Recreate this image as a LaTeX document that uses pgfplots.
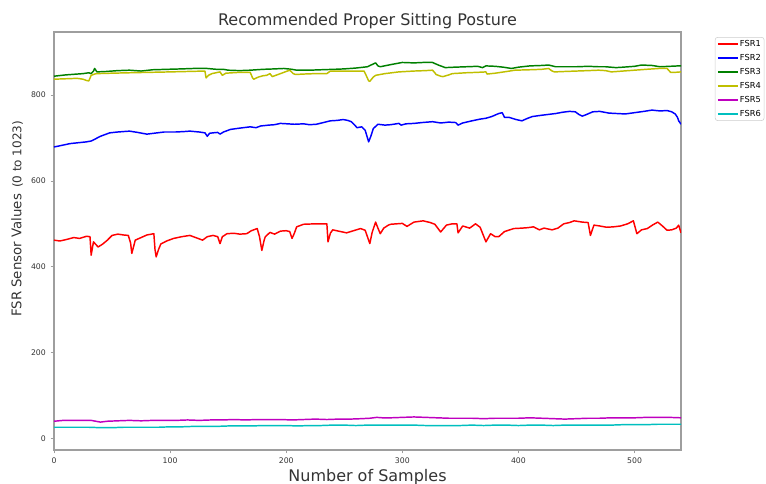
\documentclass[border=0pt]{standalone}
\usepackage{pgfplots}
\pgfplotsset{compat=1.18}
\usepackage{fontspec}
\setmainfont{DejaVu Sans}
\definecolor{mplr}{rgb}{1,0,0}
\definecolor{mplb}{rgb}{0,0,1}
\definecolor{mplg}{rgb}{0,0.5,0}
\definecolor{mply}{rgb}{0.75,0.75,0}
\definecolor{mplm}{rgb}{0.75,0,0.75}
\definecolor{mplc}{rgb}{0,0.75,0.75}
\definecolor{framegray}{rgb}{0.62,0.62,0.62}
\definecolor{ticktext}{rgb}{0.2,0.2,0.2}
\begin{document}
\begin{tikzpicture}
\begin{axis}[
  name=ax,
  scale only axis,
  width=470.25pt, height=313.5pt,
  xmin=0, xmax=540, ymin=-27, ymax=947,
  xtick={0,100,200,300,400,500},
  ytick={0,200,400,600,800},
  tick pos=left,
  tick align=outside,
  major tick length=2.6pt,
  axis line style={framegray, line width=0.9pt},
  every tick/.style={framegray, line width=0.6pt},
  /pgf/number format/assume math mode=true,
  ticklabel style={font=\fontsize{5.8}{6.8}\selectfont, text=ticktext},
  title={Recommended Proper Sitting Posture},
  title style={font=\fontsize{12}{14}\selectfont, text=ticktext, at={(axis description cs:0.5,1)}, anchor=base, yshift=-1.5pt},
  xlabel={Number of Samples},
  xlabel style={font=\fontsize{12}{14}\selectfont, text=ticktext, at={(axis description cs:0.5,0)}, anchor=base, yshift=-24pt},
  ylabel={\fontsize{10}{12}\selectfont FSR Sensor Values\hspace{0.45em}\fontsize{9}{11}\selectfont (0 to 1023)},
  ylabel style={text=ticktext, at={(axis description cs:-0.059,0.553)}, anchor=center},
  legend style={at={(axis description cs:1.054,0.988)}, anchor=north west,
    draw=black!20, rounded corners=2pt, inner sep=1.5pt,
    font=\fontsize{6.2}{7}\selectfont,
    nodes={inner sep=1pt, text height=4.5pt, text depth=0.5pt},
    row sep=3.5pt},
  legend cell align=left,
  legend image code/.code={\draw[#1, line width=1.125pt, sharp corners] (0pt,0pt) -- (15pt,0pt);},
  every axis plot/.append style={line width=1.1pt, line join=round},
]
\addplot[mplr] coordinates {
(0,462)(5,460)(10,463)(17,468)(22,466)(28,471)(31,470)(32,427)(34,458)(38,446)(42,453)(46,462)(50,473)(55,476)(60,474)(64,473)(66,455)(67,431)(70,462)(75,468)(80,474)(86,477)(87,440)(88,423)(90,440)(92,453)(97,460)(103,466)(110,470)(117,473)(122,468)(128,462)(132,470)(137,473)(141,470)(143,454)(145,470)(149,477)(155,478)(160,476)(166,477)(170,484)(175,489)(177,470)(179,438)(181,462)(182,470)(186,480)(190,476)(195,483)(200,484)(203,482)(205,466)(207,478)(209,493)(215,499)(225,500)(235,500)(236,458)(238,478)(240,486)(245,483)(252,479)(258,484)(264,489)(268,485)(272,454)(274,480)(277,504)(279,490)(281,477)(284,490)(288,497)(290,499)(295,500)(300,501)(304,494)(310,504)(318,507)(324,503)(328,499)(333,481)(338,497)(343,500)(347,500)(348,479)(352,495)(358,490)(363,500)(367,492)(372,458)(376,477)(380,470)(383,470)(388,482)(396,489)(403,490)(408,491)(413,493)(418,486)(422,490)(429,486)(434,490)(439,500)(444,503)(448,507)(455,504)(460,503)(462,473)(465,497)(470,495)(476,492)(482,493)(488,495)(494,500)(499,507)(502,477)(506,486)(511,489)(516,498)(520,504)(524,495)(528,485)(532,486)(536,490)(538,497)(540,479)
};
\addlegendentry{FSR1}
\addplot[mplb] coordinates {
(0,679)(7,683)(14,687)(21,689)(28,691)(32,693)(35,697)(40,704)(44,708)(48,712)(55,714)(65,716)(72,713)(80,709)(89,712)(95,714)(105,714)(112,715)(117,716)(125,714)(130,712)(132,704)(134,711)(137,712)(141,713)(143,709)(146,714)(152,720)(160,723)(169,726)(174,724)(178,728)(185,730)(190,731)(195,734)(201,733)(207,732)(215,733)(220,731)(226,732)(232,736)(238,740)(244,741)(249,743)(253,741)(256,738)(259,730)(261,724)(265,726)(268,718)(271,691)(273,705)(275,722)(279,732)(285,730)(290,731)(297,734)(299,730)(303,733)(310,734)(317,736)(326,738)(333,735)(340,737)(346,736)(348,730)(352,735)(360,740)(367,744)(372,746)(377,750)(383,757)(386,759)(388,748)(392,748)(398,743)(403,740)(408,746)(412,750)(420,753)(426,755)(432,757)(438,760)(444,762)(449,761)(452,755)(455,751)(458,754)(464,761)(470,762)(478,758)(485,757)(492,756)(500,759)(508,762)(515,765)(522,763)(528,764)(532,761)(535,756)(537,748)(538,740)(540,732)
};
\addlegendentry{FSR2}
\addplot[mplg] coordinates {
(0,844)(10,847)(20,849)(25,850)(30,852)(32,850)(34,856)(35,862)(37,854)(45,855)(55,857)(65,858)(75,856)(85,859)(97,860)(110,861)(120,862)(132,862)(140,860)(146,860)(150,858)(160,857)(169,858)(180,860)(190,861)(198,862)(205,860)(209,858)(220,858)(230,859)(241,860)(250,861)(260,863)(270,866)(273,870)(277,875)(279,868)(281,866)(290,871)(300,876)(310,875)(318,876)(326,876)(331,870)(337,864)(345,865)(355,866)(365,867)(369,864)(372,868)(380,867)(387,865)(394,862)(400,865)(410,868)(420,869)(426,870)(432,866)(440,866)(450,866)(460,867)(469,866)(475,866)(484,864)(490,865)(500,867)(506,870)(515,869)(522,866)(530,867)(538,868)(540,868)
};
\addlegendentry{FSR3}
\addplot[mply] coordinates {
(0,837)(10,838)(20,839)(25,837)(28,834)(30,833)(32,846)(35,849)(37,850)(50,851)(65,852)(83,853)(100,854)(115,855)(130,856)(131,840)(133,846)(136,850)(143,854)(145,846)(148,851)(160,853)(169,853)(171,840)(172,837)(176,842)(180,845)(183,846)(186,850)(188,843)(192,847)(203,858)(206,850)(208,848)(215,849)(225,850)(235,850)(238,856)(241,856)(255,856)(267,856)(269,845)(271,833)(272,832)(275,842)(277,846)(285,850)(297,854)(310,856)(320,857)(326,858)(328,852)(329,848)(333,844)(335,843)(340,847)(343,850)(355,852)(365,853)(372,854)(373,849)(380,851)(390,855)(397,858)(410,859)(420,860)(426,862)(429,856)(431,854)(440,855)(450,856)(460,857)(469,858)(475,857)(480,854)(490,856)(500,858)(510,860)(521,862)(528,862)(531,853)(535,853)(540,854)
};
\addlegendentry{FSR4}
\addplot[mplm] coordinates {
(0,40)(8,42)(16,42)(24,42)(32,42)(36,40)(40,38)(46,40)(55,41)(65,42)(75,41)(85,42)(95,42)(105,42)(115,43)(125,42)(135,43)(145,43)(155,44)(165,43)(175,44)(185,44)(195,44)(205,43)(215,44)(225,45)(235,44)(245,45)(255,45)(265,46)(272,47)(278,49)(283,48)(290,48)(300,49)(310,50)(320,49)(330,48)(340,47)(350,47)(360,47)(370,46)(380,47)(390,47)(400,47)(410,48)(420,47)(430,46)(440,45)(450,46)(460,47)(470,47)(480,48)(490,48)(500,48)(510,49)(520,49)(530,49)(540,48)
};
\addlegendentry{FSR5}
\addplot[mplc] coordinates {
(0,26)(10,26)(20,26)(30,26)(40,25)(50,25)(60,26)(70,26)(80,26)(90,26)(100,27)(110,27)(120,28)(130,28)(140,28)(150,29)(160,29)(170,29)(180,30)(190,30)(200,30)(210,29)(220,30)(230,30)(240,31)(250,31)(260,30)(270,31)(280,31)(290,31)(300,31)(310,31)(320,30)(330,30)(340,30)(350,30)(360,31)(370,30)(380,31)(390,31)(400,30)(410,31)(420,31)(430,30)(440,31)(450,31)(460,31)(470,31)(480,31)(490,32)(500,32)(510,32)(520,33)(530,33)(540,33)
};
\addlegendentry{FSR6}
\end{axis}
\pgfresetboundingbox
\path[use as bounding box] ([xshift=-40.5pt,yshift=-25.5pt]ax.south west) rectangle ([xshift=63.75pt,yshift=24pt]ax.north east);
\end{tikzpicture}
\end{document}
